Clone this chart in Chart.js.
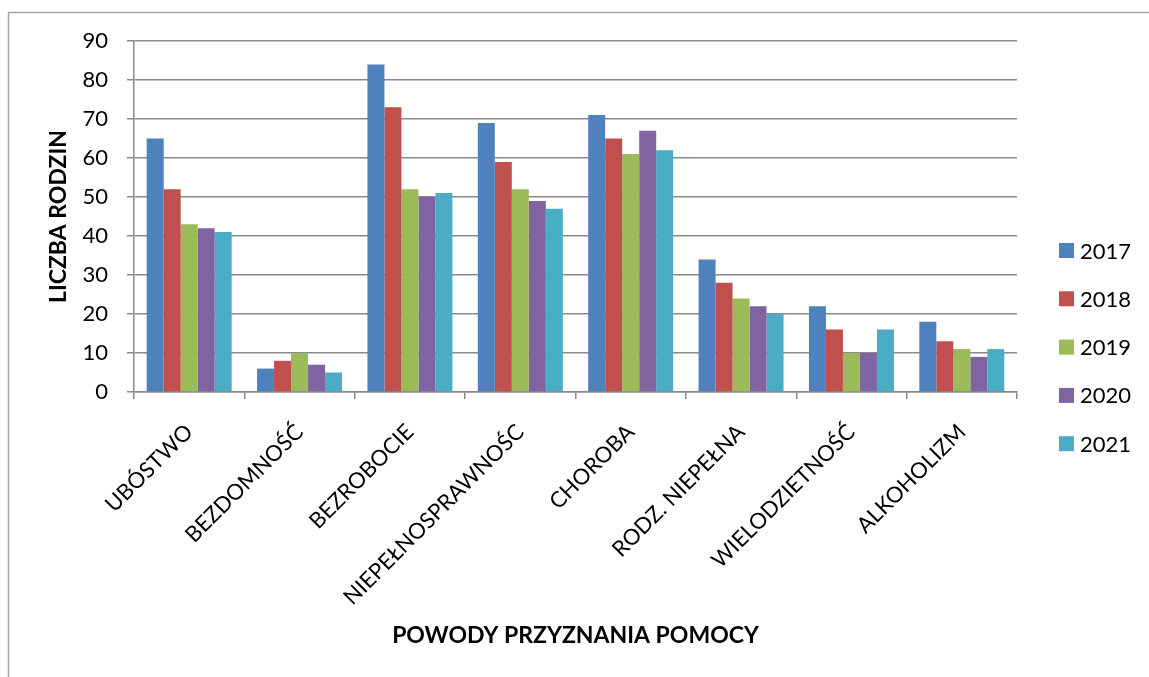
<!DOCTYPE html>
<html>
<head>
<meta charset="utf-8">
<script src="https://cdn.jsdelivr.net/npm/chart.js@4"></script>
<style>
  html, body { margin: 0; padding: 0; background: #fff; }
  #wrap { width: 1149px; height: 677px; position: relative; }
</style>
</head>
<body>
<div id="wrap"><canvas id="c"></canvas></div>
<script>
const categories = ['UBÓSTWO', 'BEZDOMNOŚĆ', 'BEZROBOCIE', 'NIEPEŁNOSPRAWNOŚC', 'CHOROBA', 'RODZ. NIEPEŁNA', 'WIELODZIETNOŚĆ', 'ALKOHOLIZM'];
const years = ['2017', '2018', '2019', '2020', '2021'];
const values2017 = [65, 6, 84, 69, 71, 34, 22, 18];
const values2018 = [52, 8, 73, 59, 65, 28, 16, 13];
const values2019 = [43, 10, 52, 52, 61, 24, 10, 11];
const values2020 = [42, 7, 50, 49, 67, 22, 10, 9];
const values2021 = [41, 5, 51, 47, 62, 20, 16, 11];
const yTicks = [0, 10, 20, 30, 40, 50, 60, 70, 80, 90];
const yAxisTitle = 'LICZBA RODZIN';
const xAxisTitle = 'POWODY PRZYZNANIA POMOCY';

const seriesValues = [values2017, values2018, values2019, values2020, values2021];
const colors = ['#4F81BD', '#C0504D', '#9BBB59', '#8064A2', '#4BACC6'];
const FONT = 'Lato, "Open Sans", sans-serif';
const GRID = '#8a8a8a';

const framePlugin = {
  id: 'frame',
  beforeDraw(chart) {
    const ctx = chart.ctx;
    ctx.save();
    ctx.fillStyle = '#ffffff';
    ctx.fillRect(0, 0, chart.width, chart.height);
    ctx.strokeStyle = '#a6a6a6';
    ctx.lineWidth = 1.5;
    ctx.strokeRect(8.5, 12.5, 3000, 3000);
    ctx.restore();
  }
};

const legendPlugin = {
  id: 'customLegend',
  afterDraw(chart) {
    const ctx = chart.ctx;
    ctx.save();
    ctx.font = '22px ' + FONT;
    ctx.textBaseline = 'middle';
    ctx.textAlign = 'left';
    chart.data.datasets.forEach((ds, i) => {
      const cy = 250.5 + i * 48.3;
      ctx.fillStyle = ds.backgroundColor;
      ctx.fillRect(1059, cy - 7.5, 15, 15);
      ctx.fillStyle = '#000';
      ctx.fillText(ds.label, 1080, cy + 1);
    });
    ctx.restore();
  }
};

new Chart(document.getElementById('c'), {
  type: 'bar',
  data: {
    labels: categories,
    datasets: years.map((y, i) => ({
      label: y,
      data: seriesValues[i],
      backgroundColor: colors[i],
      borderWidth: 0,
      categoryPercentage: 0.77,
      barPercentage: 1.0
    }))
  },
  options: {
    responsive: true,
    maintainAspectRatio: false,
    animation: false,
    layout: { padding: { left: 0, top: 41, right: 132, bottom: 0 } },
    plugins: {
      legend: { display: false },
      tooltip: { enabled: false }
    },
    scales: {
      x: {
        grid: {
          offset: true,
          drawOnChartArea: false,
          drawTicks: true,
          tickLength: 7,
          color: GRID,
          lineWidth: 1.5
        },
        border: { display: true, color: GRID, width: 1.5 },
        ticks: {
          autoSkip: false,
          maxRotation: 45,
          minRotation: 45,
          padding: 20,
          color: '#000',
          font: { family: FONT, size: 22 }
        },
        title: {
          display: true,
          text: xAxisTitle,
          color: '#000',
          font: { family: FONT, size: 23, weight: 'bold' },
          padding: { top: 0, bottom: 28 }
        },
        afterFit(scale) { scale.height = 285; }
      },
      y: {
        min: 0,
        max: 90,
        afterBuildTicks(scale) { scale.ticks = yTicks.map(v => ({ value: v })); },
        grid: {
          drawTicks: true,
          tickLength: 7,
          color: GRID,
          lineWidth: 1.5
        },
        border: { display: true, color: GRID, width: 1.5 },
        ticks: {
          padding: 19,
          color: '#000',
          font: { family: FONT, size: 22 }
        },
        title: {
          display: true,
          text: yAxisTitle,
          color: '#000',
          font: { family: FONT, size: 23, weight: 'bold' },
          padding: { top: 45, bottom: 0 }
        },
        afterFit(scale) { scale.width = 134; }
      }
    }
  },
  plugins: [framePlugin, legendPlugin]
});
</script>
</body>
</html>
